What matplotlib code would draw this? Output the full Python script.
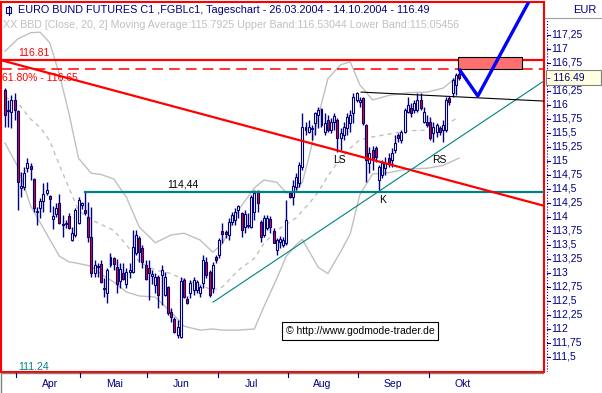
import numpy as np
import matplotlib.pyplot as plt
from matplotlib.patches import Rectangle

# daily bars 26.03.2004 - 14.10.2004
opens = [116.27, 115.89, 115.88, 116.09, 115.89, 114.52, 114.54, 114.88, 114.91, 114.68,
         114.10, 114.16, 114.29, 114.43, 114.38, 113.96, 114.05, 114.25, 113.88, 113.88,
         114.02, 113.59, 113.68, 113.89, 114.21, 114.12, 114.00, 113.64, 113.00, 113.12,
         113.16, 112.73, 112.64, 113.14, 113.27, 113.11, 112.86, 113.00, 112.80, 113.02,
         113.02, 113.36, 113.63, 113.45, 113.14, 113.09, 112.95, 112.79, 112.93, 112.96,
         112.61, 112.75, 112.30, 112.18, 111.89, 111.86, 112.88, 112.54, 112.64, 112.70,
         112.70, 112.64, 112.82, 113.20, 113.02, 112.73, 113.29, 113.32, 113.75, 113.73,
         113.68, 113.91, 113.95, 114.13, 114.07, 113.82, 113.84, 113.82, 114.09, 114.45,
         113.91, 113.68, 113.80, 113.96, 113.75, 113.41, 113.55, 113.50, 113.54, 114.43,
         114.36, 114.54, 114.61, 114.89, 115.55, 115.52, 115.57, 115.68, 115.82, 115.93,
         115.52, 115.73, 115.55, 115.70, 115.73, 115.41, 115.46, 115.59, 115.68, 115.86,
         116.09, 116.05, 116.12, 115.64, 114.96, 115.20, 115.23, 114.66, 114.75, 114.88,
         115.05, 115.02, 115.20, 115.46, 115.38, 115.52, 115.88, 115.95, 115.91, 115.91,
         116.09, 115.70, 115.70, 115.70, 115.50, 115.52, 115.59, 115.55, 115.55, 116.12,
         116.21, 116.36, 116.55]
highs = [116.30, 116.09, 116.18, 116.21, 115.91, 114.80, 114.89, 115.05, 114.96, 114.70,
         114.18, 114.34, 114.61, 114.63, 114.39, 114.20, 114.25, 114.41, 114.04, 113.95,
         114.07, 113.82, 114.16, 114.36, 114.27, 114.44, 114.27, 114.18, 113.23, 113.18,
         113.23, 112.91, 113.09, 113.36, 113.29, 113.25, 113.18, 113.18, 113.09, 113.18,
         113.77, 113.77, 113.66, 113.50, 113.23, 113.23, 113.05, 113.00, 112.96, 113.14,
         113.02, 112.77, 112.38, 112.21, 112.16, 112.93, 112.91, 112.59, 112.88, 112.93,
         112.88, 112.79, 113.32, 113.29, 113.05, 113.20, 113.32, 113.63, 113.89, 113.77,
         113.98, 114.09, 114.16, 114.21, 114.09, 114.13, 114.07, 114.39, 114.48, 114.48,
         113.95, 114.04, 114.04, 114.02, 113.80, 113.63, 113.66, 113.64, 114.30, 114.46,
         114.66, 114.79, 114.98, 115.86, 115.70, 115.73, 115.64, 115.88, 115.96, 115.95,
         115.86, 115.82, 115.77, 115.86, 115.77, 115.59, 115.70, 115.86, 115.91, 116.21,
         116.23, 116.14, 116.14, 115.66, 115.25, 115.27, 115.27, 114.93, 115.02, 115.07,
         115.14, 115.23, 115.46, 115.50, 115.55, 115.95, 116.14, 116.04, 116.09, 116.21,
         116.21, 115.96, 115.82, 115.79, 115.70, 115.68, 115.62, 115.73, 116.14, 116.16,
         116.48, 116.57, 116.62]
lows = [115.61, 115.61, 115.59, 115.73, 114.13, 114.36, 114.48, 114.80, 114.66, 114.09,
        113.86, 113.98, 114.09, 114.39, 114.09, 113.79, 114.00, 113.88, 113.64, 113.80,
        113.79, 113.57, 113.64, 113.88, 114.14, 114.04, 113.55, 112.93, 112.93, 112.93,
        112.82, 112.57, 112.46, 113.11, 113.05, 112.64, 112.73, 112.88, 112.73, 112.91,
        113.00, 113.32, 113.20, 113.09, 112.88, 112.52, 112.80, 112.64, 112.38, 112.43,
        112.59, 112.25, 112.13, 111.93, 111.84, 111.84, 112.55, 112.45, 112.55, 112.61,
        112.64, 112.57, 112.73, 112.91, 112.57, 112.64, 113.18, 113.27, 113.54, 113.63,
        113.59, 113.86, 113.86, 113.98, 113.64, 113.71, 113.80, 113.80, 113.95, 114.09,
        113.55, 113.64, 113.77, 113.71, 113.54, 113.32, 113.45, 113.46, 113.50, 114.34,
        114.21, 114.48, 114.54, 114.84, 115.46, 115.50, 115.38, 115.46, 115.59, 115.61,
        115.46, 115.52, 115.50, 115.55, 115.16, 115.20, 115.38, 115.46, 115.52, 115.68,
        116.05, 115.96, 115.64, 114.63, 114.79, 114.84, 114.98, 114.48, 114.70, 114.75,
        114.89, 114.89, 115.14, 115.34, 115.32, 115.50, 115.86, 115.79, 115.86, 115.88,
        115.91, 115.68, 115.61, 115.38, 115.34, 115.43, 115.46, 115.34, 115.52, 116.00,
        116.14, 116.18, 116.45]
closes = [115.82, 115.91, 116.09, 115.91, 114.63, 114.55, 114.79, 114.96, 114.86, 114.16,
          114.09, 114.29, 114.41, 114.48, 114.32, 114.02, 114.16, 113.89, 113.86, 113.89,
          113.80, 113.71, 114.12, 114.30, 114.25, 114.07, 113.64, 113.00, 113.14, 113.11,
          112.84, 112.71, 113.05, 113.29, 113.16, 112.80, 113.07, 112.89, 113.02, 113.05,
          113.46, 113.68, 113.38, 113.20, 112.89, 113.00, 112.98, 112.93, 112.61, 113.05,
          112.93, 112.29, 112.21, 111.95, 112.04, 112.86, 112.57, 112.46, 112.82, 112.88,
          112.84, 112.75, 113.23, 112.96, 112.61, 113.14, 113.23, 113.59, 113.70, 113.70,
          113.91, 114.04, 114.09, 114.20, 113.77, 114.05, 113.86, 114.36, 114.43, 114.25,
          113.64, 113.98, 113.98, 113.82, 113.54, 113.59, 113.60, 113.59, 113.95, 114.36,
          114.55, 114.71, 114.93, 115.61, 115.61, 115.61, 115.59, 115.86, 115.91, 115.64,
          115.68, 115.55, 115.70, 115.80, 115.41, 115.50, 115.61, 115.79, 115.82, 116.14,
          116.21, 116.09, 115.68, 115.02, 115.14, 115.02, 115.07, 114.89, 114.96, 114.96,
          114.96, 115.14, 115.32, 115.41, 115.52, 115.91, 116.00, 115.86, 116.04, 116.09,
          115.95, 115.88, 115.64, 115.41, 115.61, 115.64, 115.52, 115.64, 116.09, 116.05,
          116.45, 116.54, 116.49]

# Bollinger (20, 2) read at some bars
band_bars = [0, 4, 8, 11, 14, 17, 20, 23, 27, 30, 34, 38, 42, 47, 52, 56, 61, 65, 68,
             73, 78, 81, 85, 88, 91, 93, 95, 98, 101, 105, 108, 111, 115, 120, 126,
             132, 137, 142]
band_upper = [116.96, 117.18, 117.29, 117.30, 117.11, 116.55, 115.85, 115.05, 114.78,
              114.76, 114.68, 114.35, 113.82, 113.54, 113.68, 113.71, 113.59, 113.37,
              113.52, 114.12, 114.52, 114.66, 114.62, 114.43, 114.45, 114.62, 115.05,
              115.80, 116.47, 116.72, 116.77, 116.36, 116.09, 116.17, 116.22, 116.23,
              116.30, 116.53]
band_lower = [115.32, 114.90, 114.20, 113.90, 113.60, 113.30, 113.20, 113.17, 113.12,
              112.98, 112.84, 112.66, 112.59, 112.57, 112.30, 112.05, 111.98, 112.00,
              111.98, 111.98, 112.00, 112.40, 112.90, 113.30, 113.50, 113.60, 113.40,
              113.10, 112.99, 113.38, 113.70, 114.40, 114.77, 114.79, 114.86, 114.87,
              114.92, 115.05]
band_mid = [116.14, 116.04, 115.75, 115.60, 115.36, 114.93, 114.52, 114.11, 113.95,
            113.87, 113.76, 113.50, 113.20, 113.05, 112.99, 112.88, 112.79, 112.69,
            112.75, 113.05, 113.26, 113.53, 113.76, 113.87, 113.98, 114.11, 114.23,
            114.45, 114.73, 115.05, 115.23, 115.38, 115.43, 115.48, 115.54, 115.55,
            115.61, 115.79]

month_names = ['Apr', 'Mai', 'Jun', 'Jul', 'Aug', 'Sep', 'Okt']
month_first_bar = [4, 24, 45, 67, 89, 111, 133]

# drawn objects
line_high = 116.81
fib_level = 116.65
resist_level = 114.44
resist_bar = 25
down_x, down_y = [-1.25, 168.6], [116.80, 114.20]
up_x, up_y = [65.1, 168.6], [112.48, 116.43]
neck_x, neck_y = [111.4, 168.6], [116.23, 116.07]
zone_x, zone_y = [141.7, 161.7], [116.64, 116.86]
proj_x, proj_y = [142.3, 147.9, 164.2], [116.62, 116.16, 117.88]
last_price = 116.49
scale_min = 111.24
price_ticks = np.arange(111.5, 117.26, 0.25)

W, H = 602, 393
NAVY = '#000080'
TEAL = '#008080'
X0, X1 = -1.25, 168.6
Y0, Y1 = 111.232, 117.839

plt.rcParams['font.family'] = ['Liberation Sans', 'DejaVu Sans']


def fx(x):
    return x / W


def fy(y):
    return 1 - y / H


fig = plt.figure(figsize=(W / 100, H / 100), dpi=100)
ax = fig.add_axes([fx(1), fy(372), 543 / W, 370 / H])
ax.set_xlim(X0, X1)
ax.set_ylim(Y0, Y1)
ax.set_xticks([])
ax.set_yticks([])
for s in ax.spines.values():
    s.set_color('red')
    s.set_linewidth(1.5)

# bollinger bands
ax.plot(band_bars, band_upper, color='#c0c0c0', lw=1, zorder=1)
ax.plot(band_bars, band_lower, color='#c0c0c0', lw=1, zorder=1)
ax.plot(band_bars, band_mid, color='#c0c0c0', lw=1, dashes=(3, 3), zorder=1)

# candles
o = np.array(opens)
c = np.array(closes)
idx = np.arange(len(c))
ax.vlines(idx, lows, highs, color=NAVY, lw=1, zorder=3)
body_h = np.maximum(np.abs(c - o), 0.015)
ax.bar(idx, body_h, bottom=np.minimum(o, c), width=0.62,
       color=np.where(c >= o, 'white', 'red'), edgecolor=NAVY,
       linewidth=0.8, zorder=4)

# levels and trendlines
ax.axhline(line_high, color='red', lw=1.6, zorder=5)
ax.axhline(fib_level, color='red', lw=1.1, dashes=(7, 4), zorder=5)
ax.plot([resist_bar, X1], [resist_level] * 2, color=TEAL, lw=1.6, zorder=5)
ax.plot(down_x, down_y, color='red', lw=1.6, zorder=5)
ax.plot(up_x, up_y, color=TEAL, lw=0.8, zorder=5)
ax.plot(neck_x, neck_y, color='black', lw=0.8, zorder=5)
ax.add_patch(Rectangle((zone_x[0], zone_y[0]), zone_x[1] - zone_x[0],
                       zone_y[1] - zone_y[0], facecolor='#ff7070',
                       edgecolor='black', lw=0.8, zorder=6))
ax.plot(proj_x, proj_y, color='blue', lw=2.4, zorder=7)

ax.text(4.2, line_high + 0.03, '116.81', color='red', fontsize=7.5, va='bottom')
ax.text(-0.8, fib_level - 0.07, '61.80% - 116.65', color='red', fontsize=7.5,
        va='top')
ax.text(60.5, resist_level + 0.05, '114,44', color='black', fontsize=7.5,
        ha='right', va='bottom')
ax.text(104.5, 115.02, 'LS', fontsize=7.5, ha='center', va='center')
ax.text(136.0, 115.02, 'RS', fontsize=7.5, ha='center', va='center')
ax.text(118.0, 114.31, 'K', fontsize=7.5, ha='center', va='center')
ax.text(4.0, 111.33, '%.2f' % scale_min, color=TEAL, fontsize=7.5, va='center')

# copyright box
fig.text(fx(360), fy(331), '\u00a9 http://www.godmode-trader.de', fontsize=7.5,
         ha='center', va='center',
         bbox=dict(boxstyle='square,pad=0.35', fc='white', ec='black', lw=0.8))

# title lines
fig.text(fx(18), fy(10), 'EURO BUND FUTURES C1 ,FGBLc1, Tageschart - '
         '26.03.2004 - 14.10.2004 - 116.49', color=NAVY, fontsize=7.8, va='center')
fig.text(fx(3), fy(25), 'XX BBD [Close, 20, 2] Moving Average:115.7925 '
         'Upper Band:116.53044 Lower Band:115.05456', color='#c0c0c0',
         fontsize=7.7, va='center')
fig.add_artist(Rectangle((fx(6), fy(13)), 5 / W, 6 / H, fill=False,
                         ec=NAVY, lw=0.8))
fig.add_artist(plt.Line2D([fx(8.5)] * 2, [fy(15), fy(6)], color=NAVY, lw=0.8))

# right price scale
axr = fig.add_axes([fx(545), fy(372), 57 / W, 370 / H])
axr.set_xlim(0, 57)
axr.set_ylim(Y0, Y1)
axr.axis('off')
axr.plot([1.5, 1.5], [Y0, 117.52], color=NAVY, lw=0.8, ls=':')
for p in price_ticks:
    if abs(p - last_price) < 0.1:
        continue
    lab = ('%.2f' % p).rstrip('0').rstrip('.').replace('.', ',')
    axr.plot([1.5, 4.5], [p, p], color=NAVY, lw=0.8)
    axr.text(6, p, lab, color=NAVY, fontsize=7.5, va='center')
axr.add_patch(Rectangle((0.5, last_price - 0.13), 55.5, 0.26, fc='#ffffe1',
                        ec='#808080', lw=0.8, zorder=5))
axr.text(2, last_price, '- %.2f' % last_price, color=NAVY, fontsize=7.5,
         va='center', zorder=6)
axr.axhline(117.55, color='#a0a0a0', lw=0.8)
fig.text(fx(596), fy(10), 'EUR', color=NAVY, fontsize=8, ha='right', va='center')

# time axis
axb = fig.add_axes([fx(1), 0, 543 / W, 21 / H])
axb.set_xlim(X0, X1)
axb.set_ylim(21, 0)
axb.axis('off')
axb.axhline(1, color='#808080', lw=1)
for b, name in zip(month_first_bar, month_names):
    axb.plot([b - 0.5] * 2, [1, 5], color=NAVY, lw=0.8)
    axb.text(b + 10.2, 12, name, color=NAVY, fontsize=7.5, ha='center',
             va='center')
fig.add_artist(plt.Line2D([fx(0.5)] * 2, [0, fy(373)], color='#808080', lw=1))

fig.savefig('out.png', dpi=100)
